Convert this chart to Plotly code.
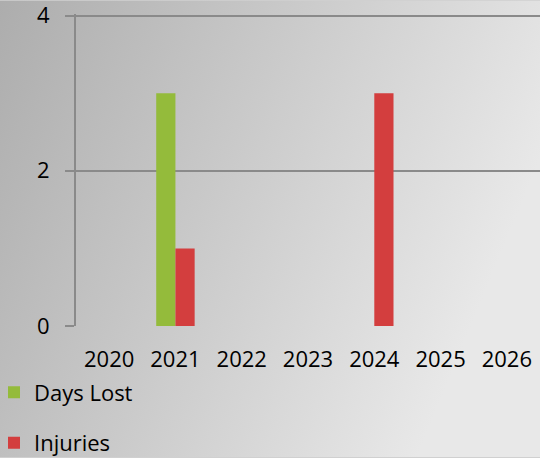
import base64
import plotly.graph_objects as go

years = ["2020", "2021", "2022", "2023", "2024", "2025", "2026"]
days_lost = [0, 3, 0, 0, 0, 0, 0]
injuries = [0, 1, 0, 0, 3, 0, 0]
y_ticks = [0, 2, 4]

W, H = 540, 458
ML, MR, MT, MB = 76, 0, 13.5, 131.5

svg = f'''<svg xmlns="http://www.w3.org/2000/svg" width="{W}" height="{H}" preserveAspectRatio="none">
<defs><linearGradient id="g" x1="0" y1="0" x2="1" y2="0.35">
<stop offset="0" stop-color="#adadad"/><stop offset="1" stop-color="#e8e8e8"/></linearGradient></defs>
<rect width="{W}" height="{H}" fill="url(#g)"/></svg>'''
src = "data:image/svg+xml;base64," + base64.b64encode(svg.encode()).decode()

pw = W - ML - MR
ph = H - MT - MB

font = dict(family="Open Sans, Lato, sans-serif", size=22, color="#000000")

fig = go.Figure()
fig.add_trace(go.Bar(
    x=years, y=days_lost, name="Days Lost", legendgroup="a",
    marker=dict(color="#94bb3b", line=dict(color="#6f8f2c", width=0)),
))
fig.add_trace(go.Bar(
    x=years, y=injuries, name="Injuries", legendgroup="b",
    marker=dict(color="#d33e3e", line=dict(color="#9e2a2a", width=0)),
))

fig.update_layout(
    width=W, height=H,
    margin=dict(l=ML, r=MR, t=MT, b=MB, pad=0, autoexpand=False),
    paper_bgcolor="#d0d0d0",
    plot_bgcolor="rgba(0,0,0,0)",
    font=font,
    barmode="group",
    bargap=0.42,
    bargroupgap=0,
    showlegend=True,
    legend=dict(
        xref="container", yref="container",
        x=0, y=0.189, xanchor="left", yanchor="top",
        orientation="v", traceorder="grouped", tracegroupgap=19,
        bgcolor="rgba(0,0,0,0)", font=dict(size=22),
        itemwidth=30, indentation=-6,
    ),
    images=[dict(
        source=src, xref="paper", yref="paper",
        x=-ML / pw, y=1 + MT / ph, sizex=W / pw, sizey=H / ph,
        xanchor="left", yanchor="top", sizing="stretch", layer="below",
    )],
)
fig.update_xaxes(
    type="category", showgrid=False, showline=False, zeroline=False,
    ticks="", ticklabelstandoff=18, tickfont=dict(size=22), automargin=False,
)
fig.update_yaxes(
    range=[0, 4.02], tickvals=y_ticks, showgrid=True, gridcolor="#8a8a8a", gridwidth=2,
    zeroline=False, showline=True, linecolor="#8a8a8a", linewidth=2,
    ticks="outside", ticklen=9, tickcolor="#8a8a8a", tickwidth=2,
    ticklabelstandoff=11, tickfont=dict(size=22), automargin=False,
    ticklabeloverflow="allow",
)

fig.write_html(
    "out.html",
    config={"displayModeBar": False},
    post_script="document.body.style.margin='0';document.body.style.overflow='hidden';",
)
